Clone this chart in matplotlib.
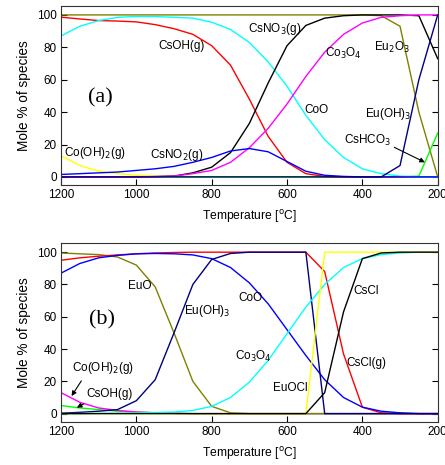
import matplotlib
matplotlib.use("Agg")
import matplotlib.pyplot as plt
import numpy as np

T = [1200, 1150, 1100, 1050, 1000, 950, 900, 850, 800, 750, 700, 650, 600,
     550, 500, 450, 400, 350, 300, 250, 200]

# ---- panel (a) ----
a_CsOH_g = [98.6, 97.5, 96.5, 96.2, 95.7, 94, 91.5, 88, 81, 69, 48, 25, 9, 2, 0.3, 0, 0, 0, 0, 0, 0]
a_CoO = [87, 93, 96.5, 98.5, 99, 99, 98.5, 98, 95.5, 91, 83, 71, 56, 38, 23, 12, 5, 2, 0.5, 0, 0]
a_CsNO3_g = [0, 0, 0, 0, 0, 0.2, 0.5, 2.5, 6, 15, 33, 58, 81, 93.5, 98, 99.5, 100, 100, 100, 99.5, 73]
a_Co3O4 = [0, 0, 0, 0, 0, 0.2, 0.5, 2, 4, 9, 18, 30, 45, 62, 77, 88, 95, 98.5, 99.5, 100, 100]
a_CsNO2_g = [1.5, 2, 2.5, 3, 4, 5, 6.5, 9, 12, 16, 17.5, 15.5, 9.5, 3.5, 1, 0.3, 0, 0, 0, 0, 0]
a_CoOH2_g = [13, 7, 3.5, 2, 1, 0.5, 0.3, 0, 0, 0, 0, 0, 0, 0, 0, 0, 0, 0, 0, 0, 0]
a_Eu2O3 = [100, 100, 100, 100, 100, 100, 100, 100, 100, 100, 100, 100, 100, 100, 100, 100, 100, 99.5, 93, 40, 0]
a_EuOH3 = [0, 0, 0, 0, 0, 0, 0, 0, 0, 0, 0, 0, 0, 0, 0, 0, 0, 0, 7, 60, 100]
a_CsHCO3 = [0, 0, 0, 0, 0, 0, 0, 0, 0, 0, 0, 0, 0, 0, 0, 0, 0, 0, 0, 0.5, 27]

# ---- panel (b) ----
b_CsCl_g = [95, 96.5, 97.5, 98.3, 99, 99.5, 99.8, 100, 100, 100, 100, 100, 100, 100, 88, 37, 4, 0.5, 0, 0, 0]
b_CoO = [87, 93, 96.5, 98, 99, 99.2, 99, 98.3, 96, 90.5, 81, 68, 52, 36, 21, 10, 4, 1.5, 0.5, 0, 0]
b_EuO = [99.5, 99, 98.5, 97, 92, 78.5, 50, 20, 4.5, 0.5, 0, 0, 0, 0, 0, 0, 0, 0, 0, 0, 0]
b_EuOH3 = [0.3, 0.8, 1.5, 2.5, 8, 21, 50, 80, 95.5, 99.2, 100, 100, 100, 100, 0, 0, 0, 0, 0, 0, 0]
b_Co3O4 = [0, 0, 0.2, 0.3, 0.5, 0.7, 1, 2, 4.5, 10, 19.5, 33, 49.5, 66, 80, 90.5, 96, 98.5, 99.5, 100, 100]
b_EuOCl = [0, 0, 0, 0, 0, 0, 0, 0, 0, 0, 0, 0, 0, 0, 100, 100, 100, 100, 100, 100, 100]
b_CsCl = [0, 0, 0, 0, 0, 0, 0, 0, 0, 0, 0, 0, 0, 0, 13, 63, 96, 99.5, 100, 100, 100]
b_CoOH2_g = [13, 7, 3.5, 2, 1, 0.5, 0.2, 0, 0, 0, 0, 0, 0, 0, 0, 0, 0, 0, 0, 0, 0]
b_CsOH_g = [5, 3.5, 2.5, 1.5, 1, 0.5, 0.2, 0, 0, 0, 0, 0, 0, 0, 0, 0, 0, 0, 0, 0, 0]

x_ticks = [1200, 1000, 800, 600, 400, 200]
y_ticks = [0, 20, 40, 60, 80, 100]

plt.rcParams['font.family'] = ['Liberation Sans', 'DejaVu Sans']

fig = plt.figure(figsize=(4.45, 4.65), dpi=100)
W, H = 445, 465
ax1 = fig.add_axes([61 / W, 1 - 185 / H, (437.7 - 61) / W, (185 - 6) / H])
ax2 = fig.add_axes([61 / W, 1 - 421.7 / H, (437.7 - 61) / W, (421.7 - 243.3) / H])

lw = 1.0
series_a = [
    (a_Eu2O3, '#808000'), (a_CoOH2_g, '#FFFF00'), (a_CsHCO3, '#00FF00'),
    (a_CsOH_g, '#FF0000'), (a_CoO, '#00FFFF'), (a_CsNO3_g, '#000000'),
    (a_Co3O4, '#FF00FF'), (a_CsNO2_g, '#0000FF'), (a_EuOH3, '#000080'),
]
for ys, c in series_a:
    ax1.plot(T, ys, color=c, lw=lw)

series_b = [
    (b_CsOH_g, '#00FF00'), (b_CoOH2_g, '#FF00FF'), (b_EuO, '#808000'),
    (b_CsCl_g, '#FF0000'), (b_CoO, '#0000FF'), (b_EuOH3, '#000080'),
    (b_Co3O4, '#00FFFF'), (b_EuOCl, '#FFFF00'), (b_CsCl, '#000000'),
]
for ys, c in series_b:
    ax2.plot(T, ys, color=c, lw=lw)

for ax in (ax1, ax2):
    ax.set_xlim(1200, 200)
    ax.set_ylim(-5, 105.5)
    ax.set_xticks(x_ticks)
    ax.set_yticks(y_ticks)
    ax.tick_params(direction='in', length=4, width=0.8, labelsize=8.5,
                   right=True, top=False, pad=3)
    for s in ax.spines.values():
        s.set_linewidth(0.8)
        s.set_color('#333333')
    ax.set_xlabel('Temperature [$^{\\mathrm{o}}$C]', fontsize=8.7, labelpad=5)
    ax.set_ylabel('Mole % of species', fontsize=9.8, labelpad=4)

fs = 8.5
serif = ['Liberation Serif', 'DejaVu Serif']
ax1.text(1096, 49, '(a)', fontsize=16, family=serif, ha='center', va='center')
ax1.text(880, 81, 'CsOH(g)', fontsize=fs, ha='center', va='center')
ax1.text(632, 91, 'CsNO$_3$(g)', fontsize=fs, ha='center', va='center')
ax1.text(451, 76.5, 'Co$_3$O$_4$', fontsize=fs, ha='center', va='center')
ax1.text(321, 80, 'Eu$_2$O$_3$', fontsize=fs, ha='center', va='center')
ax1.text(521, 41, 'CoO', fontsize=fs, ha='center', va='center')
ax1.text(332, 39, 'Eu(OH)$_3$', fontsize=fs, ha='center', va='center')
ax1.text(1110, 14.6, 'Co(OH)$_2$(g)', fontsize=fs, ha='center', va='center')
ax1.text(892, 13.4, 'CsNO$_2$(g)', fontsize=fs, ha='center', va='center')
ax1.annotate('CsHCO$_3$', xy=(234, 9), xytext=(385, 22.6), fontsize=fs,
             ha='center', va='center',
             arrowprops=dict(arrowstyle='-|>', color='black', lw=0.8,
                             mutation_scale=7, shrinkA=0, shrinkB=0,
                             relpos=(0.95, 0.2)))

ax2.text(1091, 58, '(b)', fontsize=16, family=serif, ha='center', va='center')
ax2.text(990, 79, 'EuO', fontsize=fs, ha='center', va='center')
ax2.text(813, 63.3, 'Eu(OH)$_3$', fontsize=fs, ha='center', va='center')
ax2.text(698, 71.6, 'CoO', fontsize=fs, ha='center', va='center')
ax2.text(690, 35.6, 'Co$_3$O$_4$', fontsize=fs, ha='center', va='center')
ax2.text(592, 16, 'EuOCl', fontsize=fs, ha='center', va='center')
ax2.text(389, 75.7, 'CsCl', fontsize=fs, ha='center', va='center')
ax2.text(389, 31.5, 'CsCl(g)', fontsize=fs, ha='center', va='center')
ax2.annotate('Co(OH)$_2$(g)', xy=(1172, 10.9), xytext=(1088, 28.4), fontsize=fs,
             ha='center', va='center',
             arrowprops=dict(arrowstyle='-|>', color='black', lw=0.8,
                             mutation_scale=7, shrinkA=2, shrinkB=0,
                             relpos=(0.2, 0.0)))
ax2.annotate('CsOH(g)', xy=(1158, 3.7), xytext=(1070, 12.3), fontsize=fs,
             ha='center', va='center',
             arrowprops=dict(arrowstyle='-|>', color='black', lw=0.8,
                             mutation_scale=7, shrinkA=2, shrinkB=0,
                             relpos=(0.1, 0.0)))

fig.savefig('out.png', dpi=100)
